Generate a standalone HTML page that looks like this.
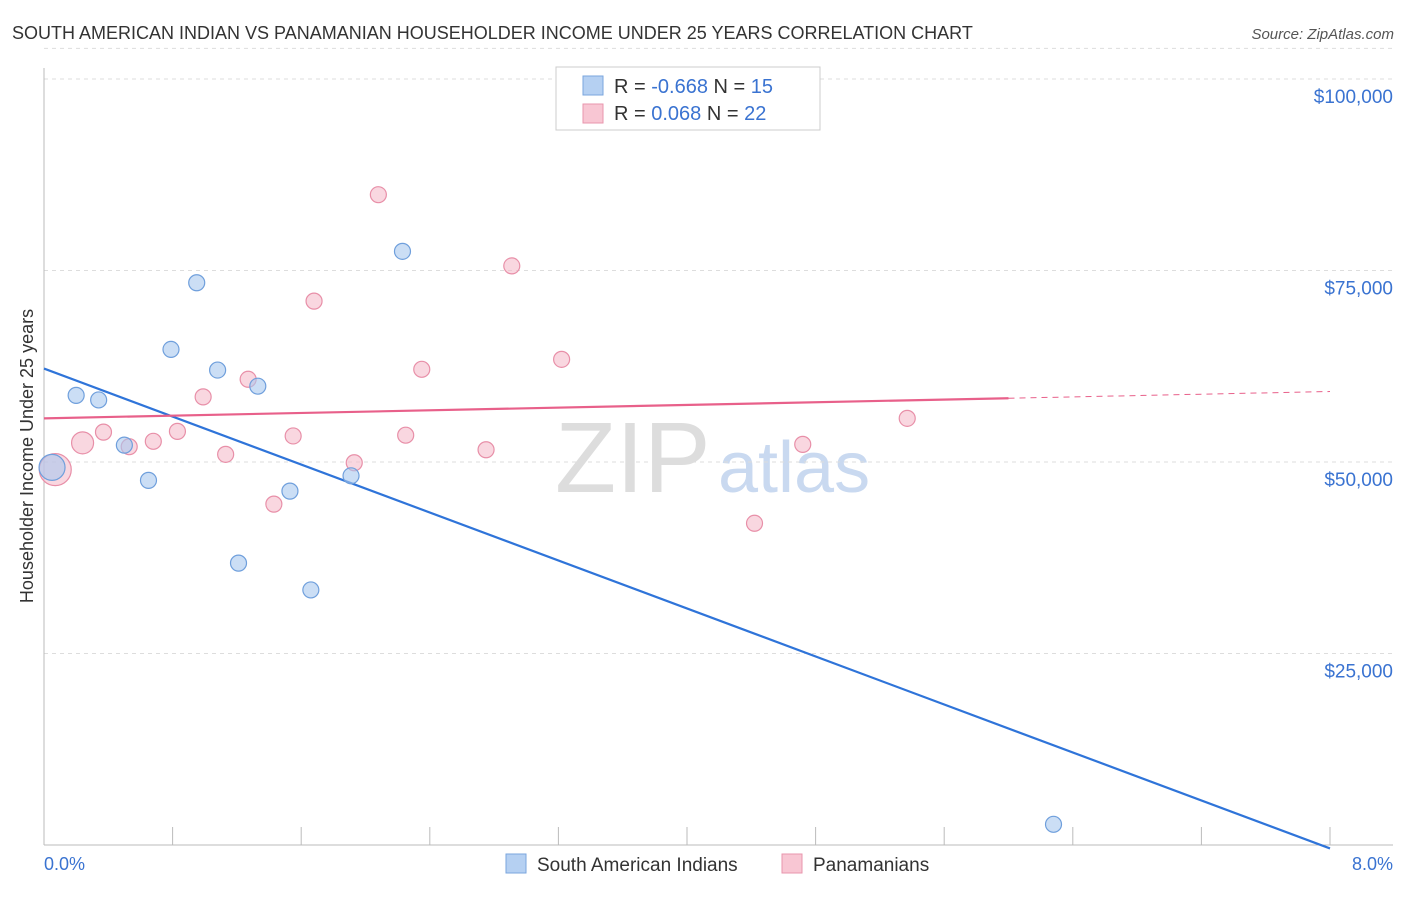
<!DOCTYPE html>
<html><head><meta charset="utf-8"><style>
body{margin:0;background:#fff;font-family:"Liberation Sans",sans-serif}
svg text{font-family:"Liberation Sans",sans-serif}
</style></head><body>
<svg id="c" width="1406" height="892">
<text x="12" y="39" font-size="18" fill="#333">SOUTH AMERICAN INDIAN VS PANAMANIAN HOUSEHOLDER INCOME UNDER 25 YEARS CORRELATION CHART</text>
<text x="1394" y="39" font-size="15" fill="#555" font-style="italic" text-anchor="end">Source: ZipAtlas.com</text>
<text transform="translate(33,456) rotate(-90)" font-size="18" fill="#333" text-anchor="middle">Householder Income Under 25 years</text>
<text x="555" y="492" font-size="100" fill="#ddd" font-family="Liberation Serif">ZIP</text>
<text x="718" y="492" font-size="72" fill="#c9d9f0">atlas</text>
<g id="grid"></g><g id="lines"></g><g id="pts"></g>
<text x="44" y="870" font-size="18" fill="#3a73d1">0.0%</text>
<text x="1393" y="870" font-size="18" fill="#3a73d1" text-anchor="end">8.0%</text>
<g>
<rect x="556" y="67" width="264" height="63" fill="#fff" stroke="#ccc"/>
<rect x="583" y="76" width="20" height="19" fill="#b5d0f2" stroke="#7aa6de"/>
<text x="614" y="93" font-size="20" fill="#333">R = <tspan fill="#3a73d1">-0.668</tspan>   N = <tspan fill="#3a73d1">15</tspan></text>
<rect x="583" y="104" width="20" height="19" fill="#f8c6d3" stroke="#e896ad"/>
<text x="614" y="120" font-size="20" fill="#333">R =  <tspan fill="#3a73d1">0.068</tspan>   N = <tspan fill="#3a73d1">22</tspan></text>
</g>
<g>
<rect x="506" y="854" width="20" height="19" fill="#b5d0f2" stroke="#7aa6de"/>
<text x="537" y="871" font-size="19" fill="#333">South American Indians</text>
<rect x="782" y="854" width="20" height="19" fill="#f8c6d3" stroke="#e896ad"/>
<text x="813" y="871" font-size="19" fill="#333">Panamanians</text>
</g>
</svg>
<script>
const yTicks=[25000,50000,75000,100000];
const yTickLabels=["$25,000","$50,000","$75,000","$100,000"];
const blueX=[0.05,0.20,0.34,0.50,0.65,0.79,0.95,1.08,1.21,1.33,1.53,1.66,1.91,2.23,6.28];
const blueY=[49300,58700,58100,52200,47600,64700,73400,62000,36800,59900,46200,33300,48200,77500,2700];
const blueR=[13,8,8,8,8,8,8,8,8,8,8,8,8,8,8];
const pinkX=[0.07,0.24,0.37,0.53,0.68,0.83,0.99,1.13,1.27,1.43,1.55,1.68,1.93,2.08,2.25,2.35,2.75,2.91,3.22,4.42,4.72,5.37];
const pinkY=[49000,52500,53900,52000,52700,54000,58500,51000,60800,44500,53400,71000,49900,84900,53500,62100,51600,75600,63400,42000,52300,55700];
const pinkR=[16,11,8,8,8,8,8,8,8,8,8,8,8,8,8,8,8,8,8,8,8,8];
const blueTrend=[62200,-450];
const pinkTrend=[55700,59200];
const pinkSolidEnd=6.0;
const X=v=>44+v/8*1286, Y=v=>845-v/25000*191.5;
const NS="http://www.w3.org/2000/svg";
function mk(p,t,a){const e=document.createElementNS(NS,t);for(const k in a)e.setAttribute(k,a[k]);document.getElementById(p).appendChild(e);return e;}
yTicks.forEach((t,i)=>{
 const l=mk('grid','line',{x1:44,x2:1393,y1:Y(t),y2:Y(t),stroke:'#ddd','stroke-dasharray':'4,4'});
 
 
 const tx=mk('grid','text',{x:1393,y:Y(t)+24,'font-size':19,fill:'#3a73d1','text-anchor':'end'});
 tx.textContent=yTickLabels[i];
 
 
});
const tg=mk('grid','line',{x1:44,x2:1393,y1:Y(104000),y2:Y(104000),stroke:'#ddd','stroke-dasharray':'4,4'});


const ax=mk('grid','line',{x1:44,x2:1393,y1:845,y2:845,stroke:'#bbb'});


const ay=mk('grid','line',{x1:44,x2:44,y1:68,y2:845,stroke:'#bbb'});


for(let i=1;i<=10;i++){const t=mk('grid','line',{x1:X(i*0.8),x2:X(i*0.8),y1:827,y2:845,stroke:'#bbb'});
 
 }
function pts(xs,ys,rs,fill,stroke,name){xs.forEach((x,i)=>{const c=mk('pts','circle',{cx:X(x),cy:Y(ys[i]),r:rs[i],fill:fill,stroke:stroke,'stroke-width':1.2,'fill-opacity':0.6});
 
 });}
pts(pinkX,pinkY,pinkR,'#f5bccb','#e88fa8','panamanian-point');
pts(blueX,blueY,blueR,'#a9c8ee','#6f9fdc','south-american-indian-point');
const bl=mk('lines','line',{x1:X(0),y1:Y(blueTrend[0]),x2:X(8),y2:Y(blueTrend[1]),stroke:'#2f74d9','stroke-width':2.2});


const pv=x=>pinkTrend[0]+(pinkTrend[1]-pinkTrend[0])*x/8;
const pl=mk('lines','line',{x1:X(0),y1:Y(pv(0)),x2:X(pinkSolidEnd),y2:Y(pv(pinkSolidEnd)),stroke:'#e8608a','stroke-width':2.2});


const pd=mk('lines','line',{x1:X(pinkSolidEnd),y1:Y(pv(pinkSolidEnd)),x2:X(8),y2:Y(pv(8)),stroke:'#e8608a','stroke-width':1,'stroke-dasharray':'6,5'});


</script>
</body></html>
